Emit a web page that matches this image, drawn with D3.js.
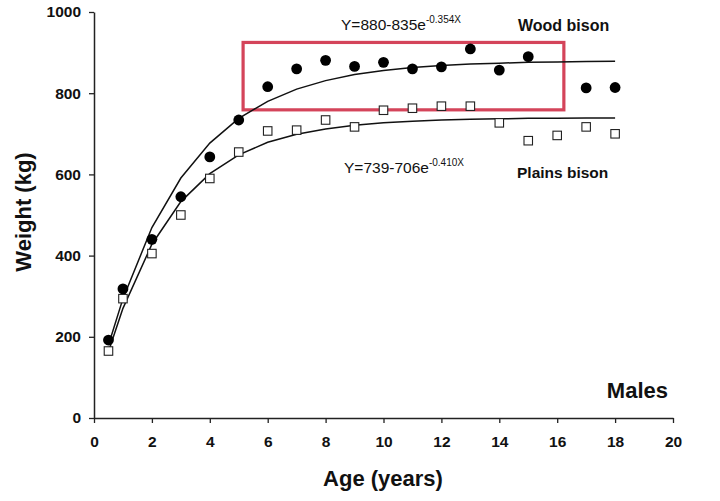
<!DOCTYPE html>
<html>
<head>
<meta charset="utf-8">
<script src="https://cdn.jsdelivr.net/npm/d3@7"></script>
<style>
  body { margin: 0; background: #fff; }
  svg { display: block; font-family: Arial, "Liberation Sans", sans-serif; }
</style>
</head>
<body>
<div id="chart"></div>
<script>
// ages for the data points
const woodAges = [0.5, 1, 2, 3, 4, 5, 6, 7, 8, 9, 10, 11, 12, 13, 14, 15, 17, 18];
const woodWeights = [192, 318, 440, 545, 643, 734, 816, 860, 881, 866, 876, 860, 865, 909, 857, 890, 813, 814];

const plainsAges = [0.5, 1, 2, 3, 4, 5, 6, 7, 8, 9, 10, 11, 12, 13, 14, 15, 16, 17, 18];
const plainsWeights = [165, 294, 405, 500, 590, 655, 707, 709, 734, 717, 758, 763, 768, 768, 727, 683, 696, 717, 700];

// fitted curves at each age knot
const curveAges = [0.5, 1, 2, 3, 4, 5, 6, 7, 8, 9, 10, 11, 12, 13, 14, 15, 16, 17, 18];
const woodCurve = [180, 294, 469, 591, 677, 738, 780, 810, 831, 846, 856, 863, 868, 872, 874, 876, 877, 878, 879];
const plainsCurve = [164, 270, 428, 533, 602, 648, 679, 699, 712, 721, 727, 731, 734, 736, 737, 738, 738, 739, 739];

const xTicks = [0, 2, 4, 6, 8, 10, 12, 14, 16, 18, 20];
const yTicks = [0, 200, 400, 600, 800, 1000];

// highlighted region (age / weight units)
const boxAges = [5.15, 16.23];
const boxWeights = [759, 925];

const width = 720, height = 501;
const svg = d3.select('#chart').append('svg')
    .attr('width', width)
    .attr('height', height);

const x = d3.scaleLinear().domain([0, 20]).range([94, 673]);
const y = d3.scaleLinear().domain([0, 1000]).range([418, 12]);

// axes
const xAxis = svg.append('g')
    .attr('transform', `translate(0,${y(0)})`)
    .call(d3.axisBottom(x).tickValues(xTicks).tickFormat(d3.format('d'))
        .tickSize(5).tickSizeOuter(0).tickPadding(13));
const yAxis = svg.append('g')
    .attr('transform', `translate(${x(0)},0)`)
    .call(d3.axisLeft(y).tickValues(yTicks).tickFormat(d3.format('d'))
        .tickSize(5).tickSizeOuter(0).tickPadding(8));

[xAxis, yAxis].forEach(a => {
    a.select('.domain').attr('stroke', '#222').attr('stroke-width', 1.5);
    a.selectAll('.tick line').attr('stroke', '#222').attr('stroke-width', 1.3);
    a.selectAll('.tick text')
        .attr('fill', '#111')
        .style('font-size', '15.5px')
        .style('font-weight', 'bold')
        .style('font-family', 'Arial, "Liberation Sans", sans-serif');
});

// red box
svg.append('rect')
    .attr('x', x(boxAges[0]))
    .attr('y', y(boxWeights[1]))
    .attr('width', x(boxAges[1]) - x(boxAges[0]))
    .attr('height', y(boxWeights[0]) - y(boxWeights[1]))
    .attr('fill', 'none')
    .attr('stroke', '#d4445a')
    .attr('stroke-width', 3.2);

// curves
const line = d3.line()
    .x(d => x(d[0]))
    .y(d => y(d[1]));

svg.append('path')
    .datum(d3.zip(curveAges, woodCurve))
    .attr('d', line)
    .attr('fill', 'none')
    .attr('stroke', '#111')
    .attr('stroke-width', 1.5);

svg.append('path')
    .datum(d3.zip(curveAges, plainsCurve))
    .attr('d', line)
    .attr('fill', 'none')
    .attr('stroke', '#111')
    .attr('stroke-width', 1.5);

// plains bison: open squares
const sq = 8.5;
svg.append('g').selectAll('rect')
    .data(d3.zip(plainsAges, plainsWeights))
    .join('rect')
    .attr('x', d => x(d[0]) - sq / 2)
    .attr('y', d => y(d[1]) - sq / 2)
    .attr('width', sq)
    .attr('height', sq)
    .attr('fill', '#fff')
    .attr('stroke', '#222')
    .attr('stroke-width', 1.1);

// wood bison: filled circles
svg.append('g').selectAll('circle')
    .data(d3.zip(woodAges, woodWeights))
    .join('circle')
    .attr('cx', d => x(d[0]))
    .attr('cy', d => y(d[1]))
    .attr('r', 5.4)
    .attr('fill', '#000');

// labels
function equation(xp, yp, main, sup) {
    const t = svg.append('text')
        .attr('x', xp)
        .attr('y', yp)
        .style('font-size', '15.5px')
        .attr('fill', '#111');
    t.append('tspan').text(main);
    t.append('tspan')
        .attr('dy', -7)
        .style('font-size', '10px')
        .text(sup);
}
equation(341, 30, 'Y=880-835e', '-0.354X');
equation(344, 173, 'Y=739-706e', '-0.410X');

svg.append('text')
    .attr('x', 518).attr('y', 31)
    .style('font-size', '16px').style('font-weight', 'bold')
    .attr('fill', '#111')
    .text('Wood bison');

svg.append('text')
    .attr('x', 517).attr('y', 178)
    .style('font-size', '15.5px').style('font-weight', 'bold')
    .attr('fill', '#111')
    .text('Plains bison');

svg.append('text')
    .attr('x', 668).attr('y', 398)
    .attr('text-anchor', 'end')
    .style('font-size', '22px').style('font-weight', 'bold')
    .attr('fill', '#111')
    .text('Males');

svg.append('text')
    .attr('x', 383).attr('y', 486)
    .attr('text-anchor', 'middle')
    .style('font-size', '22px').style('font-weight', 'bold')
    .attr('fill', '#111')
    .text('Age (years)');

svg.append('text')
    .attr('transform', 'translate(31,212) rotate(-90)')
    .attr('text-anchor', 'middle')
    .style('font-size', '22px').style('font-weight', 'bold')
    .attr('fill', '#111')
    .text('Weight (kg)');
</script>
</body>
</html>
